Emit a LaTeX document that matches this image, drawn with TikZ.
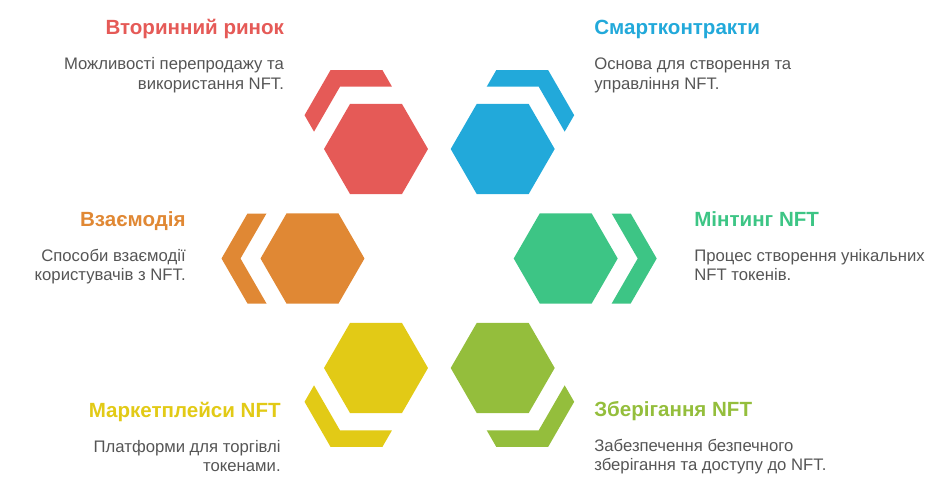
\documentclass[tikz,border=0pt]{standalone}
\usepackage{fontspec}
\setmainfont{Liberation Sans}
\usetikzlibrary{shapes.geometric}

\definecolor{hexred}{HTML}{E55A57}
\definecolor{hexblue}{HTML}{22A9DA}
\definecolor{hexorange}{HTML}{E08834}
\definecolor{hexmint}{HTML}{3DC585}
\definecolor{hexyellow}{HTML}{E2CA16}
\definecolor{hexlime}{HTML}{94BE3C}
\definecolor{bodygray}{HTML}{555555}

\tikzset{
  hexcell/.style={regular polygon, regular polygon sides=6, minimum size=2.08cm,
    inner sep=0pt, draw=none, fill=#1},
  titletext/.style={inner sep=0pt, font=\fontsize{11.7pt}{14pt}\selectfont\bfseries, text=#1},
  bodytext/.style={inner sep=0pt, font=\fontsize{9.5pt}{11pt}\selectfont, text=bodygray}
}

% chevron round one corner of a hexagon: centre, turn, colour
\newcommand{\hexbracket}[3]{%
  \begin{scope}[shift={#1}, rotate=#2]
    \fill[#3] (-91,0) -- (-65,45) -- (-46,45) -- (-72,0) -- (-46,-45) -- (-65,-45) -- cycle;
  \end{scope}}

\begin{document}
\begin{tikzpicture}[x=0.02cm, y=-0.02cm]
    \useasboundingbox (0,0) rectangle (950,500);

    % hexagons
    \node[hexcell=hexred] (hexA) at (376,149) {};
    \node[hexcell=hexblue] (hexB) at (502.7,149) {};
    \node[hexcell=hexorange] (hexC) at (312.5,258.5) {};
    \node[hexcell=hexmint] (hexD) at (565.7,258.5) {};
    \node[hexcell=hexyellow] (hexE) at (376,368) {};
    \node[hexcell=hexlime] (hexF) at (502.7,368) {};

    % brackets
    \hexbracket{(376,149)}{-60}{hexred}
    \hexbracket{(502.7,149)}{-120}{hexblue}
    \hexbracket{(312.5,258.5)}{0}{hexorange}
    \hexbracket{(565.7,258.5)}{180}{hexmint}
    \hexbracket{(376,368)}{60}{hexyellow}
    \hexbracket{(502.7,368)}{120}{hexlime}

    % texts, left side
    \node[titletext=hexred, anchor=base east] (titleA) at (284.3,35) {Вторинний ринок};
    \node[bodytext, anchor=base east] (bodyA1) at (284.3,70) {Можливості перепродажу та};
    \node[bodytext, anchor=base east] (bodyA2) at (284.3,90) {використання NFT.};

    \node[titletext=hexorange, anchor=base east] (titleC) at (186,226.7) {Взаємодія};
    \node[bodytext, anchor=base east] (bodyC1) at (186,261.7) {Способи взаємодії};
    \node[bodytext, anchor=base east] (bodyC2) at (186,280) {користувачів з NFT.};

    \node[titletext=hexyellow, anchor=base east] (titleE) at (281,417.3) {Маркетплейси NFT};
    \node[bodytext, anchor=base east] (bodyE1) at (281,452.5) {Платформи для торгівлі};
    \node[bodytext, anchor=base east] (bodyE2) at (281,471) {токенами.};

    % texts, right side
    \node[titletext=hexblue, anchor=base west] (titleB) at (594,35) {Смартконтракти};
    \node[bodytext, anchor=base west] (bodyB1) at (594,70) {Основа для створення та};
    \node[bodytext, anchor=base west] (bodyB2) at (594,90) {управління NFT.};

    \node[titletext=hexmint, anchor=base west] (titleD) at (694,226.7) {Мінтинг NFT};
    \node[bodytext, anchor=base west] (bodyD1) at (694,261.7) {Процес створення унікальних};
    \node[bodytext, anchor=base west] (bodyD2) at (694,280) {NFT токенів.};

    \node[titletext=hexlime, anchor=base west] (titleF) at (594,416.7) {Зберігання NFT};
    \node[bodytext, anchor=base west] (bodyF1) at (594,451.7) {Забезпечення безпечного};
    \node[bodytext, anchor=base west] (bodyF2) at (594,470) {зберігання та доступу до NFT.};
\end{tikzpicture}
\end{document}
